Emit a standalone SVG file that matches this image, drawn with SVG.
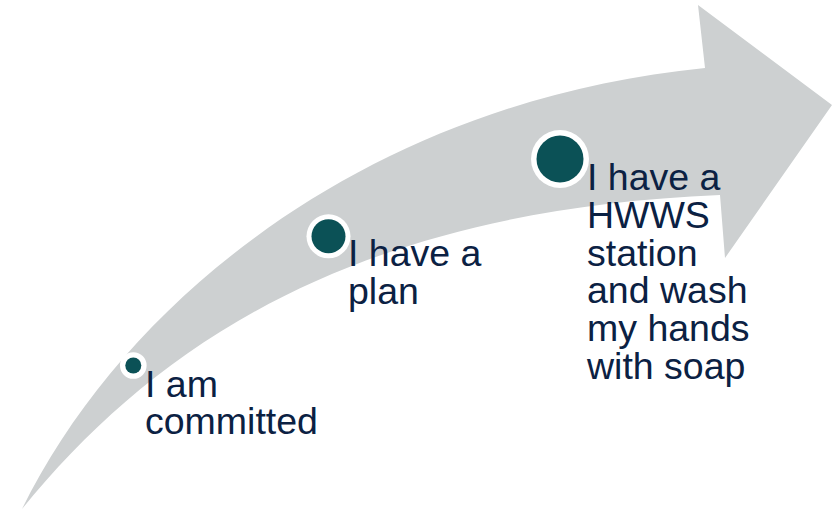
<svg xmlns="http://www.w3.org/2000/svg" width="833" height="510" viewBox="0 0 833 510">
  <style>
    .band { fill: #CDD0D1; }
    .ring { fill: #FFFFFF; }
    .dot { fill: #0B5156; }
    .label { font-family: "Liberation Sans", Arial, sans-serif; font-size: 37.5px; fill: #0B2143; }
  </style>

  <!-- Curved progress arrow -->
  <g id="connectors">
    <path class="band" d="M22,509
      C130,290 380,100 705,68
      L698,5
      L832,105
      L725,258
      L720,195
      C360,210 160,340 22,509 Z"/>
  </g>

  <!-- Step 1 -->
  <g id="step-committed">
    <circle class="ring" cx="133.3" cy="365.5" r="13.3"/>
    <circle class="dot" cx="133.3" cy="365.5" r="8"/>
    <text class="label" x="145" y="396.5">I am</text>
    <text class="label" x="145" y="434.3">committed</text>
  </g>

  <!-- Step 2 -->
  <g id="step-plan">
    <circle class="ring" cx="328.5" cy="236.3" r="22"/>
    <circle class="dot" cx="328.5" cy="236.3" r="17"/>
    <text class="label" x="348" y="266">I have a</text>
    <text class="label" x="348" y="303.8">plan</text>
  </g>

  <!-- Step 3 -->
  <g id="step-station">
    <circle class="ring" cx="560" cy="159" r="29"/>
    <circle class="dot" cx="560" cy="159" r="23.5"/>
    <text class="label" x="587" y="190">I have a</text>
    <text class="label" x="587" y="227.8">HWWS</text>
    <text class="label" x="587" y="265.6">station</text>
    <text class="label" x="587" y="303.4">and wash</text>
    <text class="label" x="587" y="341.2">my hands</text>
    <text class="label" x="587" y="379">with soap</text>
  </g>
</svg>
